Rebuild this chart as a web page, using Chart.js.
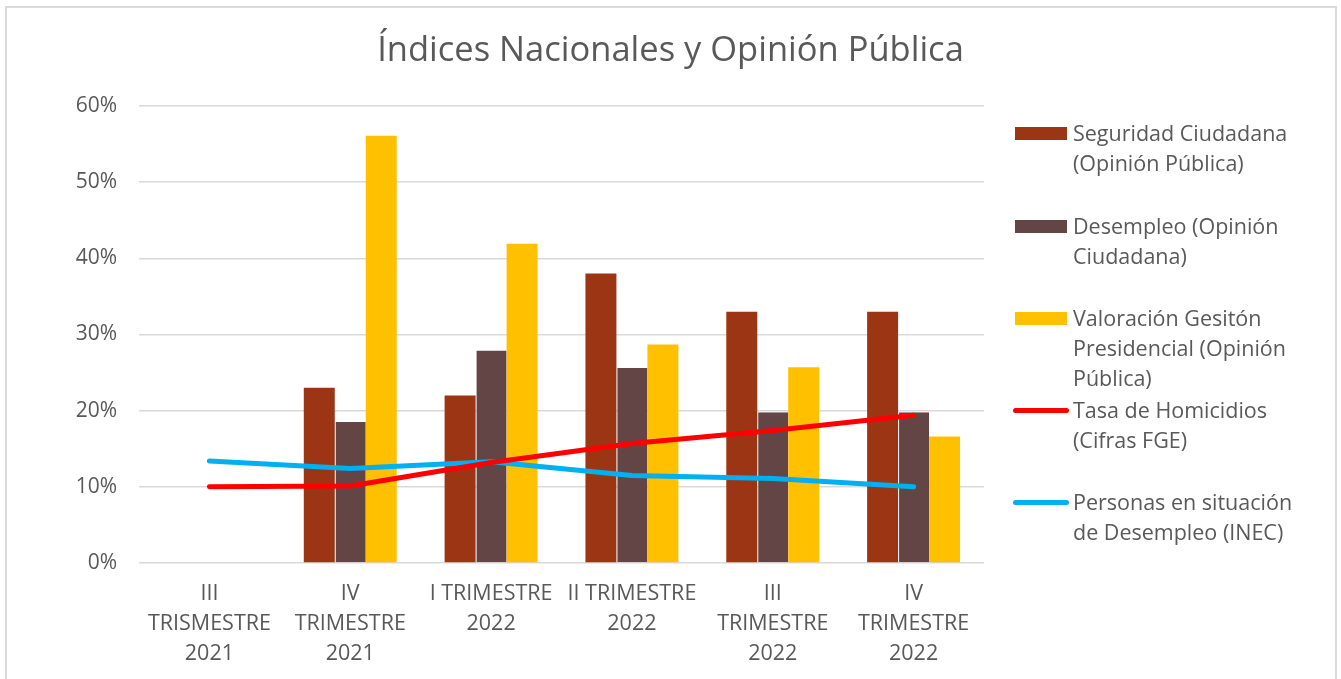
<!DOCTYPE html>
<html>
<head>
<meta charset="utf-8">
<script src="https://cdn.jsdelivr.net/npm/chart.js@4.4.1/dist/chart.umd.min.js"></script>
<style>
  html, body { margin: 0; padding: 0; background: #ffffff; }
  body { width: 1341px; height: 679px; position: relative; overflow: hidden; font-family: "Open Sans", sans-serif; }
  #frame { position: absolute; left: 5px; top: 6px; width: 1332px; height: 700px; border: 2px solid #d9d9d9; box-sizing: border-box; pointer-events: none; }
  #wrap { position: absolute; left: 0; top: 0; width: 1341px; height: 679px; }
  #legend { position: absolute; left: 0; top: 0; }
  .item { position: absolute; left: 1013px; color: #595959; font-size: 21.5px; line-height: 30px; }
  .item .txt { position: absolute; left: 60px; top: 0; white-space: nowrap; }
  .sw { position: absolute; }
</style>
</head>
<body>
<div id="wrap"><canvas id="c" width="1341" height="679"></canvas></div>
<div id="legend"></div>
<div id="frame"></div>
<script>
const categories = [
  ["III", "TRISMESTRE", "2021"],
  ["IV", "TRIMESTRE", "2021"],
  ["I TRIMESTRE", "2022"],
  ["II TRIMESTRE", "2022"],
  ["III", "TRIMESTRE", "2022"],
  ["IV", "TRIMESTRE", "2022"]
];
const seriesNames = [
  "Seguridad Ciudadana (Opinión Pública)",
  "Desempleo (Opinión Ciudadana)",
  "Valoración Gesitón Presidencial (Opinión Pública)",
  "Tasa de Homicidios (Cifras FGE)",
  "Personas en situación de Desempleo (INEC)"
];
const legendLines = [
  ["Seguridad Ciudadana", "(Opinión Pública)"],
  ["Desempleo (Opinión", "Ciudadana)"],
  ["Valoración Gesitón", "Presidencial (Opinión", "Pública)"],
  ["Tasa de Homicidios", "(Cifras FGE)"],
  ["Personas en situación", "de Desempleo (INEC)"]
];
const seguridad   = [null, 23.0, 22.0, 38.0, 33.0, 33.0];
const desempleo   = [null, 18.5, 27.9, 25.6, 19.8, 19.8];
const valoracion  = [null, 56.1, 41.9, 28.7, 25.7, 16.6];
const homicidios  = [10.0, 10.1, 13.2, 15.7, 17.4, 19.4];
const personas    = [13.4, 12.4, 13.3, 11.5, 11.1, 10.0];
const yTicks = [0, 10, 20, 30, 40, 50, 60];

const colors = ["#9C3513", "#634545", "#FFC000", "#FF0000", "#00B0F0"];
const textColor = "#595959";
const FONT = "Open Sans";

const barCommon = { type: "bar", categoryPercentage: 0.66, barPercentage: 1.0, order: 2, borderWidth: 0, yAxisID: "y" };
const lineCommon = { type: "line", borderWidth: 5, pointRadius: 0, pointHoverRadius: 0, tension: 0, fill: false,
  borderCapStyle: "round", borderJoinStyle: "round", order: 1, yAxisID: "y" };

const chart = new Chart(document.getElementById("c"), {
  data: {
    labels: categories,
    datasets: [
      Object.assign({}, barCommon, { label: seriesNames[0], data: seguridad, backgroundColor: colors[0] }),
      Object.assign({}, barCommon, { label: seriesNames[1], data: desempleo, backgroundColor: colors[1], borderColor: "rgba(255,255,255,0.35)", borderWidth: {left: 1} }),
      Object.assign({}, barCommon, { label: seriesNames[2], data: valoracion, backgroundColor: colors[2] }),
      Object.assign({}, lineCommon, { label: seriesNames[3], data: homicidios, borderColor: colors[3], backgroundColor: colors[3] }),
      Object.assign({}, lineCommon, { label: seriesNames[4], data: personas, borderColor: colors[4], backgroundColor: colors[4] })
    ]
  },
  options: {
    responsive: false,
    animation: false,
    layout: { padding: 0 },
    plugins: {
      legend: { display: false },
      tooltip: { enabled: false },
      title: {
        display: true,
        text: "Índices Nacionales y Opinión Pública",
        color: textColor,
        font: { family: FONT, size: 34.5, weight: "normal", lineHeight: 1.2 },
        padding: { top: 30, bottom: 34.6 }
      }
    },
    scales: {
      x: {
        grid: { display: false, drawTicks: false },
        border: { display: false },
        ticks: { color: textColor, font: { family: FONT, size: 21.5, lineHeight: 1.4 }, padding: 16, maxRotation: 0, autoSkip: false },
        afterFit: (s) => { s.height = 116; }
      },
      y: {
        position: "left",
        min: 0, max: 60,
        afterBuildTicks: (s) => { s.ticks = yTicks.map(v => ({ value: v })); },
        grid: { color: "#d9d9d9", lineWidth: 1.5, drawTicks: false },
        border: { display: false },
        ticks: { color: textColor, font: { family: FONT, size: 21 }, padding: 22, callback: (v) => v + "%" },
        afterFit: (s) => { s.width = 139; }
      },
      legendSpace: {
        position: "right",
        display: true,
        min: 0, max: 60,
        grid: { display: false, drawTicks: false },
        border: { display: false },
        ticks: { display: false },
        afterFit: (s) => { s.width = 357; }
      }
    }
  }
});

// HTML legend built from chart datasets
const legendTops = [118, 211, 303, 395, 487];
const lg = document.getElementById("legend");
chart.data.datasets.forEach((ds, i) => {
  const it = document.createElement("div");
  it.className = "item";
  it.style.top = legendTops[i] + "px";
  const sw = document.createElement("div");
  sw.className = "sw";
  if (ds.type === "bar") {
    sw.style.left = "2px"; sw.style.top = "9px"; sw.style.width = "52px"; sw.style.height = "13px";
    sw.style.background = ds.backgroundColor;
  } else {
    sw.style.left = "0px"; sw.style.top = "13px"; sw.style.width = "56px"; sw.style.height = "5px";
    sw.style.background = ds.borderColor; sw.style.borderRadius = "3px";
  }
  it.appendChild(sw);
  const t = document.createElement("div");
  t.className = "txt";
  t.innerHTML = legendLines[i].join("<br>");
  it.appendChild(t);
  lg.appendChild(it);
});
</script>
</body>
</html>
